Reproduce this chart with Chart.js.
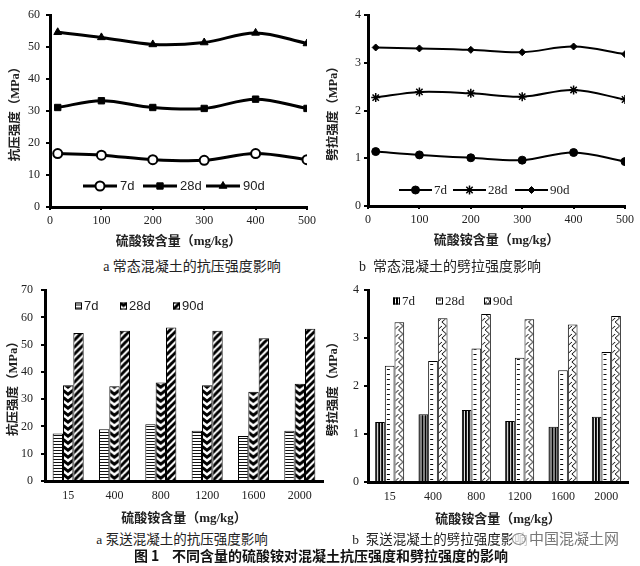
<!DOCTYPE html>
<html><head><meta charset="utf-8">
<script src="https://cdn.jsdelivr.net/npm/chart.js@4.4.1/dist/chart.umd.min.js"></script>
<style>
html,body{margin:0;padding:0;background:#fff;}
#wrap{position:relative;width:640px;height:566px;overflow:hidden;background:#fff;}
canvas{position:absolute;}
.cap{position:absolute;white-space:nowrap;color:#222;font-family:'Liberation Serif','Noto Sans CJK SC',serif;transform:translate(-50%,-50%);}
</style></head><body>
<div id="wrap">
<canvas id="cA" width="320" height="249" style="left:0;top:0"></canvas>
<canvas id="cB" width="320" height="248" style="left:320px;top:0"></canvas>
<canvas id="cC" width="330" height="251" style="left:0;top:275px"></canvas>
<canvas id="cD" width="320" height="252" style="left:320px;top:275px"></canvas>
<div class="cap" style="left:192px;top:265px;font-size:14px">a 常态混凝土的抗压强度影响</div>
<div class="cap" style="left:450px;top:265px;font-size:14px">b&nbsp; 常态混凝土的劈拉强度影响</div>
<div class="cap" style="left:182px;top:538px;font-size:13.5px">a 泵送混凝土的抗压强度影响</div>
<div class="cap" style="left:440px;top:538px;font-size:13.5px">b&nbsp; 泵送混凝土的劈拉强度影响</div>
<div class="cap" style="left:321px;top:555px;font-size:14px;font-weight:bold;font-family:'Noto Sans CJK SC',sans-serif;color:#111">图 1&nbsp;&nbsp;&nbsp; 不同含量的硫酸铵对混凝土抗压强度和劈拉强度的影响</div>
<div style="position:absolute;left:512px;top:528px;height:20px;font-family:'Noto Sans CJK SC',sans-serif;font-size:15px;color:#777;background:rgba(255,255,255,0.75);line-height:20px;white-space:nowrap"><span style="display:inline-block;width:12px;height:10px;border:1.5px solid #888;border-radius:50%;vertical-align:-1px;margin-right:3px"></span>中国混凝土网</div>
</div>
<script>
// ---------- data ----------
const seriesNames = ['7d', '28d', '90d'];
const dosageNormal = [15, 100, 200, 300, 400, 500];
const compNormal7d = [16.7, 16.2, 14.8, 14.6, 16.7, 14.8];
const compNormal28d = [31.1, 33.2, 31.1, 30.8, 33.7, 30.8];
const compNormal90d = [54.6, 53.0, 50.8, 51.4, 54.4, 51.1];
const splitNormal7d = [1.14, 1.07, 1.01, 0.96, 1.12, 0.93];
const splitNormal28d = [2.27, 2.39, 2.36, 2.29, 2.43, 2.23];
const splitNormal90d = [3.32, 3.30, 3.27, 3.22, 3.34, 3.18];
const dosagePump = ['15', '400', '800', '1200', '1600', '2000'];
const compPump7d = [17.4, 19.0, 20.8, 18.4, 16.5, 18.4];
const compPump28d = [35.1, 34.8, 36.1, 35.1, 32.7, 35.7];
const compPump90d = [54.3, 55.1, 56.3, 55.1, 52.4, 55.9];
const splitPump7d = [1.25, 1.41, 1.50, 1.27, 1.15, 1.36];
const splitPump28d = [2.42, 2.52, 2.78, 2.59, 2.33, 2.71];
const splitPump90d = [3.33, 3.41, 3.50, 3.39, 3.28, 3.46];
const xTitle = '硫酸铵含量（mg/kg）';
const yTitleComp = '抗压强度（MPa）';
const yTitleSplit = '劈拉强度（MPa）';

// ---------- styling helpers ----------
const SERIF = "'Liberation Serif','Noto Sans CJK SC',serif";
const SANS = "'Liberation Sans','Noto Sans',sans-serif";
const TXT = '#222';
const CAT_PCT = 0.67;

function pts(xs, ys) { return xs.map((x, i) => ({x: x, y: ys[i]})); }

const tileCache = {};
function makeTile(kind, bw) {
  const W = Math.max(3, Math.round(bw));
  let w = W, h = 6;
  if (kind === 'hstripe') { w = 4; h = 3; }
  else if (kind === 'chevron') { h = 7; }
  else if (kind === 'diag') { w = 7; h = 7; }
  else if (kind === 'vstripe') { w = 3; h = 2; }
  else if (kind === 'hdash') { h = 5; }
  else if (kind === 'zigzag') { h = 8; }
  const c = document.createElement('canvas');
  c.width = w; c.height = h;
  const g = c.getContext('2d');
  g.fillStyle = '#fff'; g.fillRect(0, 0, w, h);
  g.fillStyle = '#000'; g.strokeStyle = '#000';
  switch (kind) {
    case 'hstripe': g.fillStyle = '#111'; g.fillRect(0, 2, w, 1); break;
    case 'chevron':
      g.lineWidth = 3;
      for (const y0 of [-h, 0, h]) { g.beginPath(); g.moveTo(-1, y0 - 0.5); g.lineTo(w / 2, y0 + w * 0.42); g.lineTo(w + 1, y0 - 0.5); g.stroke(); }
      break;
    case 'diag':
      g.lineWidth = 3;
      for (const o of [-w, 0, w]) { g.beginPath(); g.moveTo(o - 1, h + 1); g.lineTo(o + w + 1, -1); g.stroke(); }
      break;
    case 'vstripe': g.fillRect(0, 0, 2, h); break;
    case 'hdash': g.fillRect(2, 2, 3, 1); break;
    case 'zigzag':
      g.lineWidth = 1;
      for (const y0 of [-h, 0, h]) {
        g.beginPath(); g.moveTo(w * 0.4, y0); g.lineTo(w * 0.85, y0 + h / 2); g.lineTo(w * 0.4, y0 + h); g.stroke();
        g.beginPath(); g.moveTo(w * 0.05, y0 + h * 0.9); g.lineTo(w * 0.4, y0 + h * 0.5); g.stroke();
      }
      break;
  }
  return c;
}
function makePattern(chart, kind, left, top, bw) {
  const key = kind + '_' + Math.round(bw);
  const t = tileCache[key] || (tileCache[key] = makeTile(kind, bw));
  const p = chart.ctx.createPattern(t, 'repeat');
  p.setTransform(new DOMMatrix([1, 0, 0, 1, left, top]));
  return p;
}
function barBg(kind) {
  return (ctx) => {
    const chart = ctx.chart;
    const xs = chart.scales && chart.scales.x, ys = chart.scales && chart.scales.y;
    if (ctx.type !== 'data' || !xs || !ys || !xs.width) return '#fff';
    const n = chart.data.labels.length, m = chart.data.datasets.length;
    const groupW = xs.width / n * CAT_PCT;
    const bw = groupW / m;
    const left = xs.getPixelForValue(ctx.dataIndex) - groupW / 2 + ctx.datasetIndex * bw;
    return makePattern(chart, kind, left, ys.getPixelForValue(0), bw);
  };
}

function drawMarker(ctx, ds, x, y) {
  ctx.save();
  ctx.fillStyle = ds.pointBackgroundColor; ctx.strokeStyle = ds.pointBorderColor; ctx.lineWidth = ds.pointBorderWidth;
  if (Chart.helpers && Chart.helpers.drawPoint) {
    Chart.helpers.drawPoint(ctx, {pointStyle: ds.pointStyle, radius: ds.pointRadius, rotation: 0, borderWidth: ds.pointBorderWidth}, x, y);
  } else {
    ctx.beginPath(); ctx.arc(x, y, ds.pointRadius, 0, Math.PI * 2); ctx.fill(); ctx.stroke();
  }
  ctx.restore();
}

const inLegend = {
  id: 'inLegend',
  afterDraw(chart, args, o) {
    if (!o || !o.xs) return;
    const ctx = chart.ctx;
    ctx.save();
    ctx.font = o.font; ctx.textBaseline = 'middle'; ctx.textAlign = 'left';
    chart.data.datasets.forEach((ds, i) => {
      const x = o.xs[i], y = o.y;
      if (o.kind === 'line') {
        ctx.strokeStyle = ds.borderColor; ctx.lineWidth = ds.borderWidth;
        ctx.beginPath(); ctx.moveTo(x, y); ctx.lineTo(x + o.lineLen, y); ctx.stroke();
        drawMarker(ctx, ds, x + o.lineLen / 2, y);
        ctx.fillStyle = o.color; ctx.fillText(ds.label, x + o.lineLen + o.gap, y + 0.5);
      } else {
        const s = o.box;
        ctx.fillStyle = makePattern(chart, ds.patternKind, x, y - s / 2, s);
        ctx.fillRect(x, y - s / 2, s, s);
        ctx.strokeStyle = '#000'; ctx.lineWidth = 1;
        ctx.strokeRect(x + 0.5, y - s / 2 + 0.5, s - 1, s - 1);
        ctx.fillStyle = o.color; ctx.fillText(ds.label, x + s + o.gap, y + 0.5);
      }
    });
    ctx.restore();
  }
};
Chart.register(inLegend);

function yAxis(min, max, step, width, title, pad, tpad) {
  return {
    type: 'linear', min: min, max: max,
    afterFit: (s) => { s.width = width; },
    ticks: {stepSize: step, padding: pad, color: TXT, font: {family: SERIF, size: 12}},
    grid: {display: true, drawOnChartArea: false, drawTicks: true, tickLength: 4, color: '#000', lineWidth: 2},
    border: {display: true, color: '#000', width: 3},
    title: {display: true, text: title, color: TXT, font: {family: SERIF, size: 12.5, weight: 'bold'}, padding: {top: tpad, bottom: 0}}
  };
}
function xTitleCfg() {
  return {display: true, text: xTitle, color: TXT, font: {family: SERIF, size: 13, weight: 'bold'}, padding: {top: 0, bottom: 0}};
}
function xLinear(height) {
  return {
    type: 'linear', min: 0, max: 500,
    afterFit: (s) => { s.height = height; },
    ticks: {stepSize: 100, padding: 4, color: TXT, font: {family: SERIF, size: 12}},
    grid: {display: true, drawOnChartArea: false, drawTicks: true, tickLength: 3, color: '#000', lineWidth: 2},
    border: {display: true, color: '#000', width: 3},
    title: xTitleCfg()
  };
}
function xCat(height) {
  return {
    type: 'category',
    afterFit: (s) => { s.height = height; },
    ticks: {padding: 8, color: TXT, font: {family: SERIF, size: 12}},
    grid: {display: true, drawOnChartArea: false, drawTicks: false, color: '#000'},
    border: {display: true, color: '#000', width: 3},
    title: xTitleCfg()
  };
}
const base = {responsive: false, animation: false, events: []};

function lineDs(label, xs, ys, style, r, fill, lw, pbw) {
  return {label: label, data: pts(xs, ys), borderColor: '#000', borderWidth: lw, tension: 0.35,
    pointStyle: style, pointRadius: r, pointBackgroundColor: fill, pointBorderColor: '#000', pointBorderWidth: pbw, fill: false};
}

// A: normal concrete, compressive
new Chart(document.getElementById('cA'), {
  type: 'line',
  data: {datasets: [
    lineDs(seriesNames[0], dosageNormal, compNormal7d, 'circle', 4.5, '#fff', 3, 2),
    lineDs(seriesNames[1], dosageNormal, compNormal28d, 'rect', 4.5, '#000', 3, 1),
    lineDs(seriesNames[2], dosageNormal, compNormal90d, 'triangle', 4.5, '#000', 3, 1)
  ]},
  options: Object.assign({}, base, {
    layout: {padding: {left: 0, top: 15, right: 13, bottom: 0}},
    scales: {x: xLinear(42), y: yAxis(0, 60, 10, 50, yTitleComp, 6, 8)},
    plugins: {legend: {display: false}, tooltip: {enabled: false},
      inLegend: {kind: 'line', xs: [83, 143, 206], y: 186, lineLen: 34, gap: 3, font: '13px ' + SANS, color: TXT}}
  })
});

// B: normal concrete, splitting
new Chart(document.getElementById('cB'), {
  type: 'line',
  data: {datasets: [
    lineDs(seriesNames[0], dosageNormal, splitNormal7d, 'circle', 4, '#000', 2, 1),
    lineDs(seriesNames[1], dosageNormal, splitNormal28d, 'star', 4.5, '#000', 2, 1.5),
    lineDs(seriesNames[2], dosageNormal, splitNormal90d, 'rectRot', 3.5, '#000', 2, 1)
  ]},
  options: Object.assign({}, base, {
    layout: {padding: {left: 0, top: 15, right: 15, bottom: 0}},
    scales: {x: xLinear(42), y: yAxis(0, 4, 1, 48, yTitleSplit, 3, 6)},
    plugins: {legend: {display: false}, tooltip: {enabled: false},
      inLegend: {kind: 'line', xs: [79, 133, 195], y: 190, lineLen: 33, gap: 2, font: '13px ' + SERIF, color: TXT}}
  })
});

function barDs(label, data, kind) {
  return {label: label, data: data, patternKind: kind, backgroundColor: barBg(kind), borderColor: '#000', borderWidth: 1,
    categoryPercentage: CAT_PCT, barPercentage: 1};
}

// C: pumped concrete, compressive
new Chart(document.getElementById('cC'), {
  type: 'bar',
  data: {labels: dosagePump, datasets: [
    barDs(seriesNames[0], compPump7d, 'hstripe'),
    barDs(seriesNames[1], compPump28d, 'chevron'),
    barDs(seriesNames[2], compPump90d, 'diag')
  ]},
  options: Object.assign({}, base, {
    layout: {padding: {left: 0, top: 15, right: 7, bottom: 0}},
    scales: {x: xCat(45), y: yAxis(0, 70, 10, 45, yTitleComp, 8, 6)},
    plugins: {legend: {display: false}, tooltip: {enabled: false},
      inLegend: {kind: 'box', xs: [75, 120, 173], y: 31, box: 7, gap: 2, font: '13px ' + SANS, color: TXT}}
  })
});

// D: pumped concrete, splitting
new Chart(document.getElementById('cD'), {
  type: 'bar',
  data: {labels: dosagePump, datasets: [
    barDs(seriesNames[0], splitPump7d, 'vstripe'),
    barDs(seriesNames[1], splitPump28d, 'hdash'),
    barDs(seriesNames[2], splitPump90d, 'zigzag')
  ]},
  options: Object.assign({}, base, {
    layout: {padding: {left: 0, top: 15, right: 12, bottom: 0}},
    scales: {x: xCat(45), y: yAxis(0, 4, 1, 48, yTitleSplit, 5, 6)},
    plugins: {legend: {display: false}, tooltip: {enabled: false},
      inLegend: {kind: 'box', xs: [73, 116, 164], y: 26, box: 7, gap: 2, font: '13px ' + SERIF, color: TXT}}
  })
});
</script>
</body></html>
